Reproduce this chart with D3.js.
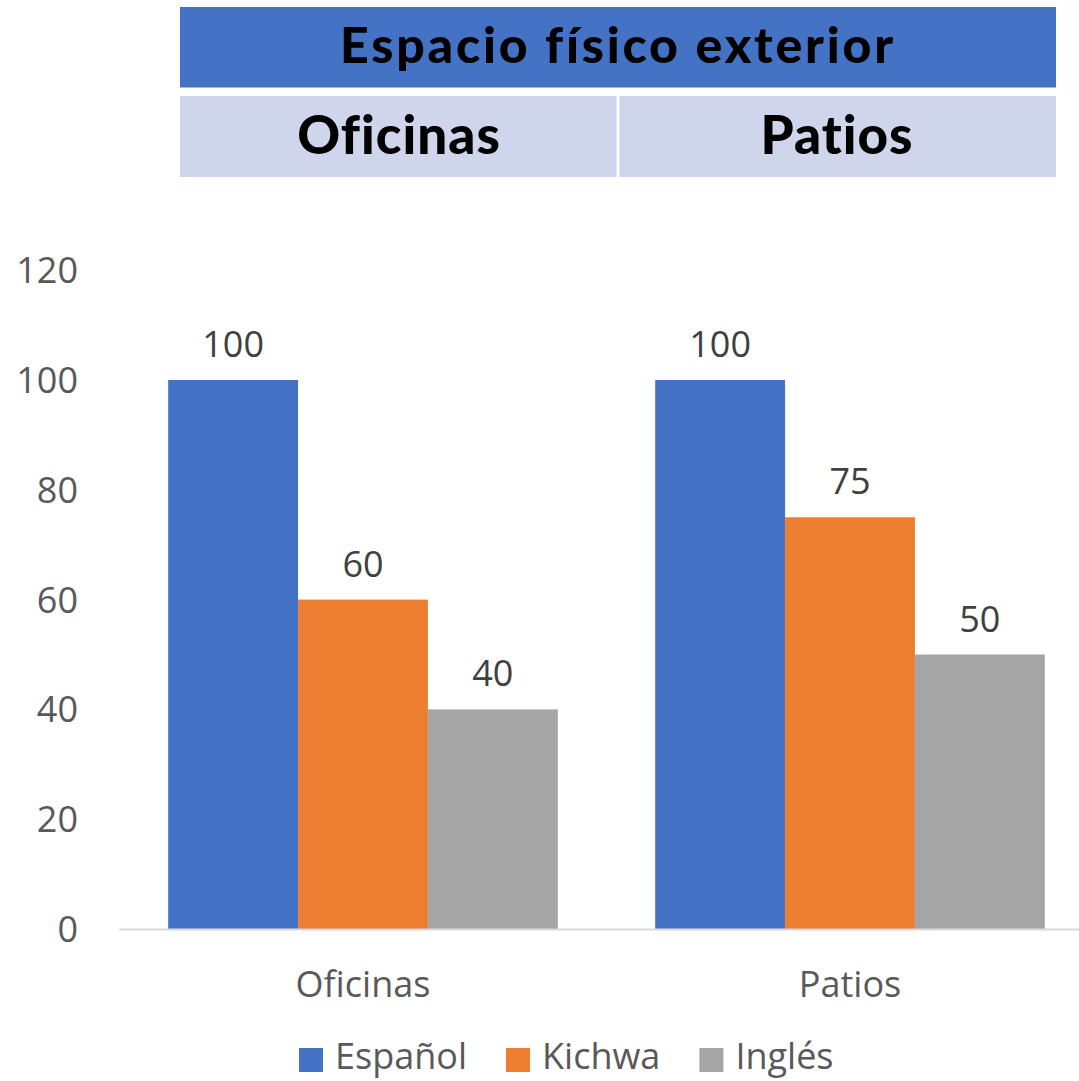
<!DOCTYPE html>
<html>
<head>
<meta charset="utf-8">
<script src="https://cdn.jsdelivr.net/npm/d3@7"></script>
<style>
  body { margin: 0; background: #fff; }
  svg { display: block; }
</style>
</head>
<body>
<svg id="chart" width="1079" height="1081"></svg>
<script>
const categories = ["Oficinas", "Patios"];
const seriesNames = ["Español", "Kichwa", "Inglés"];
const espanol = [100, 100];
const kichwa = [60, 75];
const ingles = [40, 50];
const yTicks = [0, 20, 40, 60, 80, 100, 120];
const headerTitle = "Espacio físico exterior";

const colors = ["#4472c4", "#ed7d31", "#a5a5a5"];
const values = [espanol, kichwa, ingles];

const svg = d3.select("#chart");
const textColor = "#595959";
const font = "'Open Sans', sans-serif";
const headFont = "Lato, sans-serif";

// scales
const x = d3.scaleBand()
  .domain(categories)
  .range([119.5, 1093.5])
  .paddingInner(0.2)
  .paddingOuter(0.1);

const xs = d3.scaleBand()
  .domain(seriesNames)
  .range([0, x.bandwidth()]);

const y = d3.scaleLinear()
  .domain([0, 120])
  .range([929, 270.2]);

// header table
svg.append("rect")
  .attr("x", 180).attr("y", 7)
  .attr("width", 876).attr("height", 80.5)
  .attr("fill", "#4472c4");
svg.append("text")
  .attr("x", 618).attr("y", 63)
  .attr("text-anchor", "middle")
  .attr("font-family", headFont).attr("font-weight", 900)
  .attr("font-size", 50)
  .attr("letter-spacing", 2.8)
  .attr("fill", "#000")
  .text(headerTitle);

const hx = d3.scaleBand().domain(categories).range([180, 1056]);
const heads = svg.append("g").selectAll("g")
  .data(categories).join("g");
heads.append("rect")
  .attr("x", (d, i) => hx(d) + (i ? 1.5 : 0))
  .attr("y", 96)
  .attr("width", hx.bandwidth() - 1.5)
  .attr("height", 81)
  .attr("fill", "#cfd5ea");
heads.append("text")
  .attr("x", d => hx(d) + hx.bandwidth() / 2)
  .attr("y", 154)
  .attr("text-anchor", "middle")
  .attr("font-family", headFont).attr("font-weight", 900)
  .attr("font-size", 53)
  .attr("letter-spacing", 1)
  .attr("fill", "#000")
  .text(d => d);

// y tick labels
svg.append("g").selectAll("text")
  .data(yTicks).join("text")
  .attr("x", 78)
  .attr("y", d => y(d))
  .attr("dy", "0.36em")
  .attr("text-anchor", "end")
  .attr("font-family", font).attr("font-size", 36)
  .attr("fill", textColor)
  .text(d => d);

// bars
const groups = svg.append("g").selectAll("g")
  .data(categories).join("g")
  .attr("transform", d => `translate(${x(d)},0)`);

groups.selectAll("rect")
  .data((d, ci) => seriesNames.map((s, si) => ({ s, si, v: values[si][ci] })))
  .join("rect")
  .attr("x", d => xs(d.s))
  .attr("y", d => y(d.v))
  .attr("width", xs.bandwidth())
  .attr("height", d => y(0) - y(d.v))
  .attr("fill", d => colors[d.si]);

groups.selectAll("text")
  .data((d, ci) => seriesNames.map((s, si) => ({ s, si, v: values[si][ci] })))
  .join("text")
  .attr("x", d => xs(d.s) + xs.bandwidth() / 2)
  .attr("y", d => y(d.v) - 23)
  .attr("text-anchor", "middle")
  .attr("font-family", font).attr("font-size", 36)
  .attr("fill", "#404040")
  .text(d => d.v);

// x axis line
svg.append("line")
  .attr("x1", 119).attr("x2", 1093.5)
  .attr("y1", y(0) + 0.5).attr("y2", y(0) + 0.5)
  .attr("stroke", "#d9d9d9").attr("stroke-width", 2);

// category labels
svg.append("g").selectAll("text")
  .data(categories).join("text")
  .attr("x", d => x(d) + x.bandwidth() / 2)
  .attr("y", 997)
  .attr("text-anchor", "middle")
  .attr("font-family", font).attr("font-size", 36)
  .attr("fill", textColor)
  .text(d => d);

// legend
const legend = svg.append("g").attr("transform", "translate(299,0)");
let lx = 0;
seriesNames.forEach((name, i) => {
  legend.append("rect")
    .attr("x", lx).attr("y", 1048)
    .attr("width", 24).attr("height", 24)
    .attr("fill", colors[i]);
  const t = legend.append("text")
    .attr("x", lx + 36).attr("y", 1069)
    .attr("font-family", font).attr("font-size", 36)
    .attr("fill", textColor)
    .text(name);
  lx += 36 + t.node().getComputedTextLength() + 39;
});
</script>
</body>
</html>
